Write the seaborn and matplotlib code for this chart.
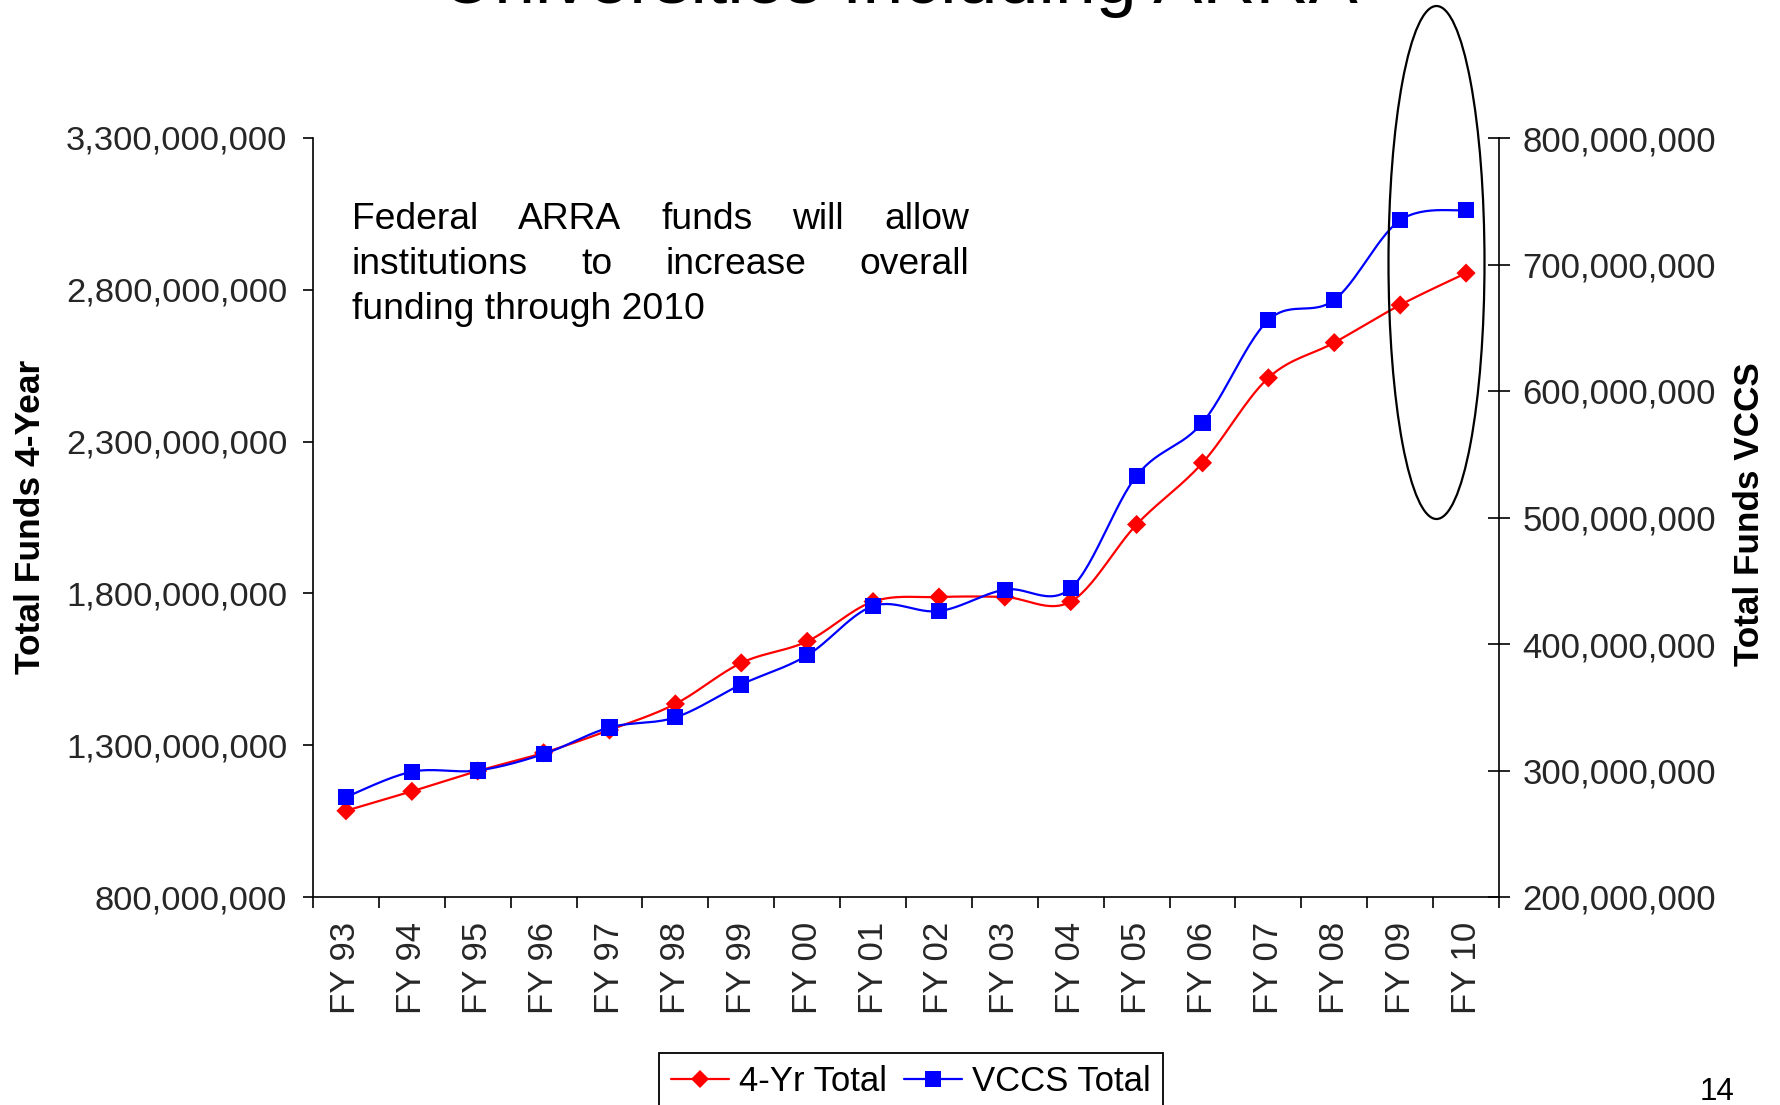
import numpy as np
import pandas as pd
import matplotlib
matplotlib.use("Agg")
import matplotlib.pyplot as plt
from matplotlib.lines import Line2D
from matplotlib.patches import Ellipse
from matplotlib.ticker import FuncFormatter, FixedLocator
import seaborn as sns

# ---------------- data ----------------
years = ["FY 93", "FY 94", "FY 95", "FY 96", "FY 97", "FY 98", "FY 99", "FY 00", "FY 01",
         "FY 02", "FY 03", "FY 04", "FY 05", "FY 06", "FY 07", "FY 08", "FY 09", "FY 10"]
four_yr_total = [1.084e9, 1.148e9, 1.215e9, 1.275e9, 1.350e9, 1.436e9, 1.571e9, 1.642e9, 1.773e9,
                 1.788e9, 1.788e9, 1.773e9, 2.027e9, 2.230e9, 2.510e9, 2.626e9, 2.750e9, 2.855e9]
vccs_total = [279e6, 299e6, 300e6, 313e6, 334e6, 342e6, 368e6, 391e6, 430e6,
              426e6, 443e6, 444e6, 533e6, 575e6, 656e6, 672e6, 735e6, 743e6]
left_ticks = [800e6, 1300e6, 1800e6, 2300e6, 2800e6, 3300e6]
right_ticks = [200e6, 300e6, 400e6, 500e6, 600e6, 700e6, 800e6]
series_names = ["4-Yr Total", "VCCS Total"]
note_lines = [["Federal", "ARRA", "funds", "will", "allow"],
              ["institutions", "to", "increase", "overall"],
              ["funding through 2010"]]
title_text = "Universities Including ARRA"

# ---------------- style ----------------
sns.set_theme(style="white")
plt.rcParams["font.family"] = ["Liberation Sans", "DejaVu Sans"]
plt.rcParams["text.color"] = "black"

W, H = 1781, 1105
fig = plt.figure(figsize=(W / 100, H / 100), dpi=100)
fig.patch.set_facecolor("white")
ax = fig.add_axes([313 / W, 1 - 897 / H, (1499 - 313) / W, (897 - 138) / H])
ax2 = ax.twinx()

RED = "#FF0000"
BLUE = "#0000FF"


def smooth(y, n=30):
    """Excel-like smoothed line (Catmull-Rom Bezier) through the data points."""
    x = np.arange(len(y), dtype=float)
    P = np.column_stack([x, np.asarray(y, dtype=float)])
    xs, ys = [], []
    t = np.linspace(0, 1, n)[:, None]
    for i in range(len(P) - 1):
        p0 = P[i - 1] if i > 0 else P[i]
        p1, p2 = P[i], P[i + 1]
        p3 = P[i + 2] if i + 2 < len(P) else P[i + 1]
        c1 = p1 + (p2 - p0) / 6.0
        c2 = p2 - (p3 - p1) / 6.0
        B = (1 - t) ** 3 * p1 + 3 * (1 - t) ** 2 * t * c1 + 3 * (1 - t) * t ** 2 * c2 + t ** 3 * p2
        if i < len(P) - 2:
            B = B[:-1]
        xs.append(B[:, 0])
        ys.append(B[:, 1])
    return np.concatenate(xs), np.concatenate(ys)


idx = np.arange(len(years))
df = pd.DataFrame({"pos": idx, "four": four_yr_total, "vccs": vccs_total})

sx, sy = smooth(four_yr_total)
sns.lineplot(x=sx, y=sy, ax=ax, color=RED, lw=1.6, estimator=None, sort=False, zorder=2)
sns.scatterplot(data=df, x="pos", y="four", ax=ax, marker="D", s=95, color=RED,
                edgecolor="none", linewidth=0, zorder=3)

sx2, sy2 = smooth(vccs_total)
sns.lineplot(x=sx2, y=sy2, ax=ax2, color=BLUE, lw=1.6, estimator=None, sort=False, zorder=2)
sns.scatterplot(data=df, x="pos", y="vccs", ax=ax2, marker="s", s=135, color=BLUE,
                edgecolor="none", linewidth=0, zorder=3)

# ---------------- axes ----------------
fmt = FuncFormatter(lambda v, p: f"{v:,.0f}")
for a in (ax, ax2):
    a.set_xlim(-0.5, len(years) - 0.5)
    a.set_xlabel("")
    a.set_ylabel("")
    a.grid(False)
    a.set_facecolor("none")
    for s in a.spines.values():
        s.set_linewidth(1.2)
        s.set_color("black")
    a.spines["top"].set_visible(False)

ax.set_ylim(800e6, 3300e6)
ax.yaxis.set_major_locator(FixedLocator(left_ticks))
ax.yaxis.set_major_formatter(fmt)
ax.spines["right"].set_visible(False)
ax.tick_params(axis="y", which="major", direction="out", length=7.5, width=1.2,
               color="black", labelsize=24.8, pad=11, left=True)

ax2.set_ylim(200e6, 800e6)
ax2.yaxis.set_major_locator(FixedLocator(right_ticks))
ax2.yaxis.set_major_formatter(fmt)
ax2.spines["left"].set_visible(False)
ax2.spines["bottom"].set_visible(False)
ax2.tick_params(axis="y", which="major", direction="inout", length=16, width=1.2,
                color="black", labelsize=25, pad=9, right=True)
ax2.tick_params(axis="x", which="both", bottom=False, labelbottom=False)

ax.set_xticks(idx)
ax.set_xticklabels(years, rotation=90)
ax.set_xticks(np.arange(-0.5, len(years), 1.0), minor=True)
ax.tick_params(axis="x", which="major", length=0, labelsize=25, pad=18, bottom=True)
ax.tick_params(axis="x", which="minor", direction="out", length=8, width=1.2,
               color="black", bottom=True)

# axis titles
fig.text(31 / W, 1 - 517 / H, "Total Funds 4-Year", rotation=90, ha="center", va="center",
         fontsize=25.5, fontweight="bold")
fig.text(1750 / W, 1 - 514 / H, "Total Funds VCCS", rotation=90, ha="center", va="center",
         fontsize=25.3, fontweight="bold")

# cut-off title (top line of the slide title lies above the picture)
fig.text(899 / W, 1 - 3 / H, title_text, ha="center", va="baseline", fontsize=53)

# justified annotation
renderer = fig.canvas.get_renderer()
x0, x1 = 352, 969
baselines = [229, 274, 319]
for words, base in zip(note_lines, baselines):
    texts = [fig.text(0, 1 - base / H, w, fontsize=26.8, ha="left", va="baseline") for w in words]
    widths = [t.get_window_extent(renderer).width for t in texts]
    if len(words) > 1:
        gap = ((x1 - x0) - sum(widths)) / (len(words) - 1)
    else:
        gap = 0
    pos = x0
    for t, w in zip(texts, widths):
        t.set_x(pos / W)
        pos += w + gap

# ellipse highlighting FY09-FY10
ell = Ellipse((1436.5 / W, 1 - 262.5 / H), 96 / W, 513 / H, transform=fig.transFigure,
              fill=False, edgecolor="black", linewidth=1.6, zorder=10)
fig.add_artist(ell)

# legend
handles = [
    Line2D([], [], color=RED, lw=1.6, marker="D", markersize=9.5, markeredgewidth=0),
    Line2D([], [], color=BLUE, lw=1.6, marker="s", markersize=11.5, markeredgewidth=0),
]
leg = fig.legend(handles, series_names, loc="upper center",
                 bbox_to_anchor=(911 / W, 1 - 1053 / H), ncol=2, fontsize=25,
                 frameon=True, fancybox=False, shadow=False, framealpha=1,
                 edgecolor="black", handlelength=1.65, handletextpad=0.3,
                 columnspacing=0.5, borderpad=0.35, borderaxespad=0, numpoints=1)
leg.get_frame().set_linewidth(1.3)

# page number
fig.text(1717 / W, 1 - 1092 / H, "14", ha="center", va="center", fontsize=22.5)

fig.savefig("out.png", dpi=100, facecolor="white")
